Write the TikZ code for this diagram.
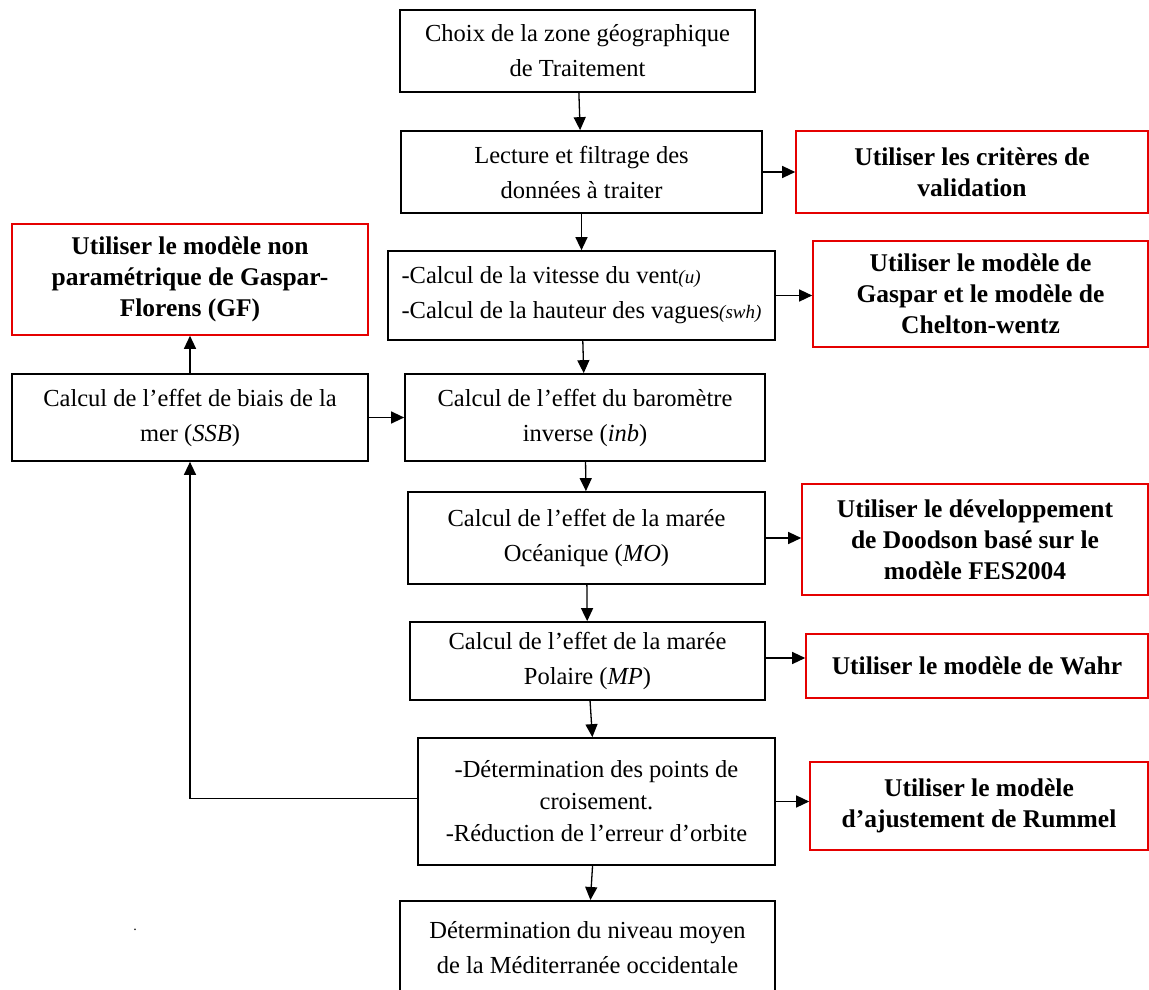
\documentclass[tikz,border=0pt]{standalone}
\usepackage{fontspec}
\setmainfont{Liberation Serif}
\usetikzlibrary{arrows.meta,calc}
\begin{document}
\begin{tikzpicture}[x=1pt,y=-1pt,
  box/.style={draw=black, line width=1.7pt, align=center, inner sep=0pt,
    font=\fontsize{24.5}{35}\selectfont},
  redbox/.style={draw=red!90!black, line width=1.6pt, align=center, inner sep=0pt,
    font=\bfseries\fontsize{25.5}{31}\selectfont},
  arr/.style={-{Triangle[length=13pt,width=12pt]}, line width=1.3pt}]
\useasboundingbox (0,0) rectangle (1149,990);

% main column
\node[box, minimum width=355, minimum height=82] (b1) at (577.5,51)
  {Choix de la zone géographique\\de Traitement};
\node[box, minimum width=361, minimum height=82] (b2) at (581.5,172)
  {Lecture et filtrage des\\données à traiter};
\node[box, minimum width=387, minimum height=89, align=left] (b3) at (581.5,295.5)
  {-Calcul de la vitesse du vent{\fontsize{19}{19}\selectfont\itshape(u)}\\-Calcul de la hauteur des vagues{\fontsize{19}{19}\selectfont\itshape(swh)}};
\node[box, minimum width=360, minimum height=87] (b4) at (585,417.5)
  {Calcul de l'effet du baromètre\\inverse (\textit{inb})};
\node[box, minimum width=357, minimum height=92] (b5) at (586.5,538)
  {Calcul de l'effet de la marée\\Océanique (\textit{MO})};
\node[box, minimum width=355, minimum height=78] (b6) at (587.5,661)
  {Calcul de l'effet de la marée\\Polaire (\textit{MP})};
\node[box, minimum width=357, minimum height=127, font=\fontsize{24.5}{32}\selectfont] (b7) at (596.5,801.5)
  {-Détermination des points de\\croisement.\\-Réduction de l'erreur d'orbite};
\node[box, minimum width=375, minimum height=94, anchor=north] (b8) at (587.5,900)
  {Détermination du niveau moyen\\de la Méditerranée occidentale};

% left column
\node[redbox, minimum width=356, minimum height=111] (rl) at (190,279.5)
  {Utiliser le modèle non\\paramétrique de Gaspar-\\Florens (GF)};
\node[box, minimum width=356, minimum height=87] (ssb) at (190,417.5)
  {Calcul de l'effet de biais de la\\mer (\textit{SSB})};

% right column
\node[redbox, minimum width=352, minimum height=82] (r1) at (972,172)
  {Utiliser les critères de\\validation};
\node[redbox, minimum width=335, minimum height=106] (r2) at (980.5,294)
  {Utiliser le modèle de\\Gaspar et le modèle de\\Chelton-wentz};
\node[redbox, minimum width=346, minimum height=111] (r3) at (975,539.5)
  {Utiliser le développement\\de Doodson basé sur le\\modèle FES2004};
\node[redbox, minimum width=342, minimum height=64] (r4) at (977,666)
  {Utiliser le modèle de Wahr};
\node[redbox, minimum width=338, minimum height=88] (r5) at (979,806)
  {Utiliser le modèle\\d'ajustement de Rummel};

\node[font=\fontsize{14}{14}\selectfont] (dot) at (135,930) {.};

% vertical flow
\draw[arr] (b1) -- (b2);
\draw[arr] (b2) -- (b3);
\draw[arr] (b3) -- (b4);
\draw[arr] (b4) -- (b5);
\draw[arr] (b5) -- (b6);
\draw[arr] (b6) -- (b7);
\draw[arr] (b7) -- (b8);

% horizontal to the right
\draw[arr] (b2.east) -- (b2.east -| r1.west);
\draw[arr] (b3.east) -- (b3.east -| r2.west);
\draw[arr] (b5.east) -- (b5.east -| r3.west);
\draw[arr] ([yshift=3]b6.east) -- ([yshift=3]b6.east -| r4.west);
\draw[arr] (b7.east) -- (b7.east -| r5.west);

% left side
\draw[arr] (ssb.north) -- (rl.south);
\draw[arr] (ssb.east) -- (ssb.east -| b4.west);
\draw[arr] ([yshift=3]b7.west) -| (ssb.south);
\end{tikzpicture}
\end{document}
